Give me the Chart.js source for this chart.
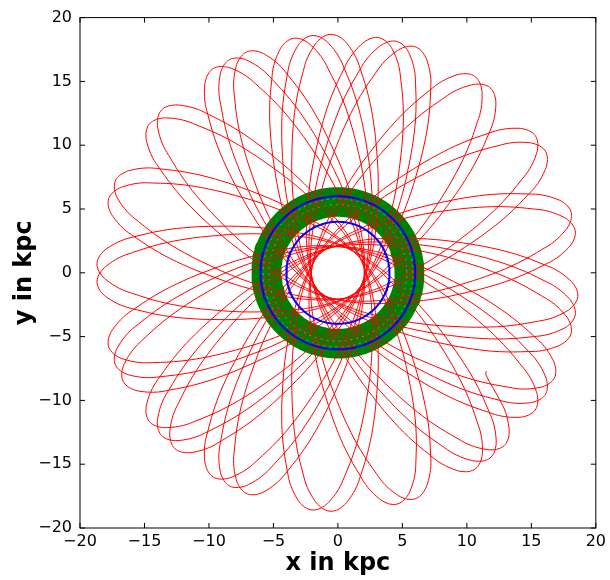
<!DOCTYPE html>
<html>
<head>
<meta charset="utf-8">
<title>Órbitas</title>
<script src="https://cdn.jsdelivr.net/npm/chart.js@4.4.0/dist/chart.umd.min.js"></script>
<style>
    html, body { margin: 0; padding: 0; background: #fff; }
    canvas { display: block; }
</style>
</head>
<body>
<canvas id="chartOrbitas" width="610" height="580"></canvas>
<script>
// Apocentros de la órbita roja (grados), en el orden en que se recorren.
// La órbita arranca en el pericentro anterior al primero.
const apoGrados = [238.9, 112.1, 345.3, 218.5, 91.7, 324.9, 198.1, 71.3, 304.6,
    177.8, 51.0, 284.2, 157.4, 30.6, 263.8, 137.0, 10.2, 243.4, 116.6,
    349.8, 223.0, 96.2, 329.4, 202.6, 75.9, 309.1, 182.3, 55.5, 288.7,
    161.9, 35.1, 268.3, 141.5, 14.7, 247.9, 121.1, 354.3, 227.5, 100.7,
    333.9, 207.1, 80.3, 313.6];

// Media órbita: radio (kpc) y ángulo barrido desde el pericentro (grados)
const tramoRadio = [2.05, 2.08, 2.15, 2.3, 2.5, 3, 3.5, 4, 5, 6, 8, 10, 12, 14, 16, 17, 18, 18.4, 18.6, 18.7];
const tramoGrados = [0, 10.9, 20.0, 30.7, 39.9, 54.0, 62.8, 69.2, 78.0, 84.0, 91.9, 97.4, 101.5, 105.1, 108.6, 110.3, 112.7, 114.1, 115.2, 116.6];

// Donde termina la integración
const finOrbita = [11.5, -7.7];

// Órbitas circulares (azul) y banda de la órbita verde, en kpc
const radiosAzules = [4.0, 6.0];
const bandaVerde = [4.4, 6.7];
const huecosVerde = [5.35, 5.8];

const marcas = [-20, -15, -10, -5, 0, 5, 10, 15, 20];

function polar(r, grados) {
    const a = grados * Math.PI / 180;
    return { x: r * Math.cos(a), y: r * Math.sin(a) };
}

function orbitaRoja() {
    const puntos = [];
    const ultimo = tramoRadio.length - 1;
    const medio = tramoGrados[ultimo];
    const ultimoApo = apoGrados.length - 1;
    const finRadio = Math.hypot(finOrbita[0], finOrbita[1]);

    // subida inicial desde el pericentro
    for (let i = 0; i < ultimo; i++) {
        puntos.push(polar(tramoRadio[i], apoGrados[0] - medio + tramoGrados[i]));
    }

    apoGrados.forEach((apo, n) => {
        // del apocentro hacia el pericentro
        for (let i = ultimo; i >= 0; i--) {
            if (n === ultimoApo && tramoRadio[i] < finRadio) break;
            puntos.push(polar(tramoRadio[i], apo + medio - tramoGrados[i]));
        }
        if (n === ultimoApo) return;
        // y de vuelta hacia el siguiente apocentro
        const sig = apoGrados[n + 1];
        for (let i = 1; i < ultimo; i++) {
            puntos.push(polar(tramoRadio[i], sig - medio + tramoGrados[i]));
        }
    });
    puntos.push({ x: finOrbita[0], y: finOrbita[1] });
    return puntos;
}

function circulo(r) {
    const puntos = [];
    for (let g = 0; g <= 364; g += 2) {
        puntos.push(polar(r, g));
    }
    return puntos;
}

function etiqueta(v) {
    return v < 0 ? '\u2212' + Math.abs(v) : String(v);
}

// Marco con marcas hacia dentro en los cuatro lados
const marco = {
    id: 'marco',
    afterDraw(chart) {
        const { ctx, chartArea: a, scales: { x, y } } = chart;
        ctx.save();
        ctx.strokeStyle = '#000';
        ctx.lineWidth = 1;
        ctx.strokeRect(a.left, a.top, a.right - a.left, a.bottom - a.top);
        ctx.beginPath();
        marcas.forEach(v => {
            const px = x.getPixelForValue(v);
            ctx.moveTo(px, a.top); ctx.lineTo(px, a.top + 5);
            ctx.moveTo(px, a.bottom); ctx.lineTo(px, a.bottom - 5);
            const py = y.getPixelForValue(v);
            ctx.moveTo(a.left, py); ctx.lineTo(a.left + 5, py);
            ctx.moveTo(a.right, py); ctx.lineTo(a.right - 5, py);
        });
        ctx.stroke();
        ctx.restore();
    }
};

function anchoBanda(c) {
    const s = c.chart.scales.x;
    if (!s) return 29.7;
    return Math.abs(s.getPixelForValue(bandaVerde[1]) - s.getPixelForValue(bandaVerde[0]));
}

const fuenteTicks = { family: "'DejaVu Sans', sans-serif", size: 16 };
const fuenteTitulo = { family: "'DejaVu Sans', sans-serif", size: 24, weight: 'bold' };

const ejeComun = {
    type: 'linear',
    min: -20,
    max: 20,
    afterBuildTicks: s => { s.ticks = marcas.map(v => ({ value: v })); },
    grid: { display: false, drawTicks: false },
    border: { display: false },
    ticks: { color: '#000', font: fuenteTicks, callback: etiqueta, autoSkip: false, maxRotation: 0 }
};

const chart = new Chart(document.getElementById('chartOrbitas'), {
    type: 'scatter',
    data: {
        datasets: [
            {
                label: 'verde',
                data: circulo((bandaVerde[0] + bandaVerde[1]) / 2),
                borderColor: '#008000',
                borderWidth: anchoBanda,
                borderJoinStyle: 'round',
                showLine: true,
                order: 4
            },
            ...huecosVerde.map(r => ({
                label: 'hueco ' + r,
                data: circulo(r),
                borderColor: 'rgba(200, 235, 200, 0.45)',
                borderWidth: 1,
                borderDash: [2, 4],
                showLine: true,
                order: 3
            })),
            {
                label: 'roja',
                data: orbitaRoja(),
                borderColor: '#ff0000',
                borderWidth: 1,
                showLine: true,
                tension: 0.4,
                order: 2
            },
            ...radiosAzules.map(r => ({
                label: 'azul ' + r,
                data: circulo(r),
                borderColor: '#0000ff',
                borderWidth: 2,
                showLine: true,
                order: 1
            }))
        ]
    },
    options: {
        responsive: false,
        animation: false,
        layout: { padding: { top: 13, right: 14, left: 0, bottom: 0 } },
        elements: { point: { radius: 0, hoverRadius: 0 } },
        plugins: { legend: { display: false }, tooltip: { enabled: false } },
        scales: {
            x: {
                ...ejeComun,
                afterFit: s => { s.height = 52; },
                ticks: { ...ejeComun.ticks, padding: 4 },
                title: { display: true, text: 'x in kpc', color: '#000', font: fuenteTitulo, padding: { top: 0, bottom: 2 } }
            },
            y: {
                ...ejeComun,
                afterFit: s => { s.width = 80; },
                ticks: { ...ejeComun.ticks, padding: 8 },
                title: { display: true, text: 'y in kpc', color: '#000', font: fuenteTitulo, padding: { top: 10, bottom: 0 } }
            }
        }
    },
    plugins: [marco]
});
</script>
</body>
</html>
